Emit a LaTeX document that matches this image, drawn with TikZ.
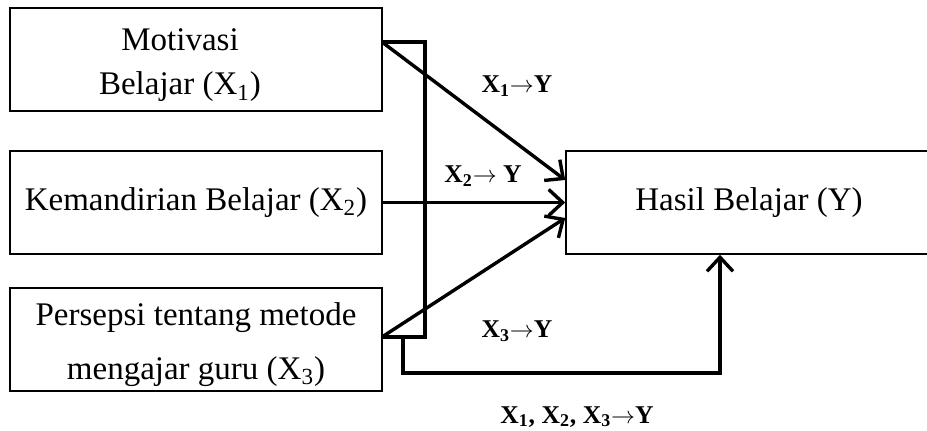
\documentclass[tikz,border=0pt]{standalone}
\usepackage{fontspec}
\setmainfont{Liberation Serif}
\usetikzlibrary{arrows.meta}

\tikzset{
  varbox/.style={draw, line width=0.8pt, minimum width=186pt, minimum height=51.5pt,
    inner sep=0pt, align=center, font=\fontsize{16.5}{22}\selectfont},
  boxtext/.style={align=center, font=\fontsize{16.5}{22}\selectfont},
  link/.style={line width=1.7pt, -{Straight Barb[length=7pt,width=13pt,line width=1.7pt]}},
  bracket/.style={line width=1.7pt},
  lbl/.style={font=\fontsize{12.8}{14}\selectfont\bfseries}
}
\newcommand{\arr}{$\rightarrow$}

\begin{document}
\begin{tikzpicture}[x=0.5pt,y=-0.5pt]
        \useasboundingbox (0,0) rectangle (927,431);

        % variabel bebas dan terikat
        \node[varbox] (x1) at (196,59.5) {};
        \node[boxtext] (x1txt) at ([xshift=-8pt,yshift=-3pt]x1.center) {Motivasi\\Belajar (X\textsubscript{1})};
        \node[varbox] (x2) at (196,202.5) {Kemandirian Belajar (X\textsubscript{2})};
        \node[varbox] (x3) at (196,339.5) {};
        \node[boxtext] (x3txt) at ([yshift=-2.5pt]x3.center) {Persepsi tentang metode\\[5pt]mengajar guru (X\textsubscript{3})};
        \node[varbox, minimum width=183pt] (y) at (749,202.5) {Hasil Belajar (Y)};

        \coordinate (b1) at (382,42);
        \coordinate (b3) at (382,337);
        \coordinate (b4) at (403,337);

        % kurung gabungan
        \draw[bracket] (b1) -| (425,337) -- (b3);
        \draw[link] (b4) -- ++(0,36) -| ([xshift=-14.5pt]y.south);

        % pengaruh parsial
        \draw[link] (b1) -- ([yshift=11.25pt]y.west);
        \draw[link] (x2.east) -- (y.west);
        \draw[link] (b3) -- ([yshift=-7.75pt]y.west);

        \node[lbl] (l1) at (517,86) {X\textsubscript{1}\arr Y};
        \node[lbl] (l2) at (483,176) {X\textsubscript{2}\arr\ Y};
        \node[lbl] (l3) at (517,331) {X\textsubscript{3}\arr Y};
        \node[lbl] (l4) at (577,417) {X\textsubscript{1}, X\textsubscript{2}, X\textsubscript{3}\arr Y};
    \end{tikzpicture}
\end{document}
